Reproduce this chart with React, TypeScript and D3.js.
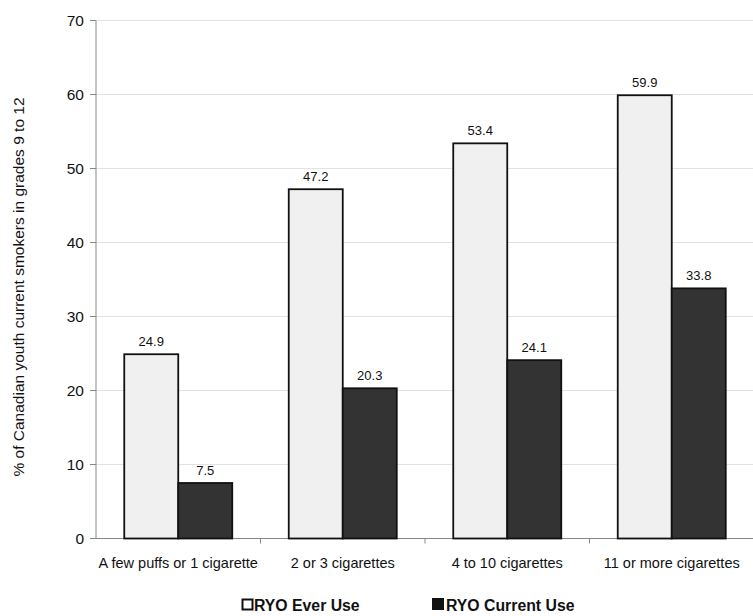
import React from "react";
import * as d3 from "d3";

const categories = ["A few puffs or 1 cigarette", "2 or 3 cigarettes", "4 to 10 cigarettes", "11 or more cigarettes"];
const everUse = [24.9, 47.2, 53.4, 59.9];
const currentUse = [7.5, 20.3, 24.1, 33.8];
const yTicks = [0, 10, 20, 30, 40, 50, 60, 70];
const seriesNames = ["RYO Ever Use", "RYO Current Use"];

export default function App() {
  const W = 753, H = 616;
  const left = 96, right = 754, top = 20.5, bottom = 538.5;
  const x = d3.scaleBand<string>().domain(categories).range([left, right]);
  const y = d3.scaleLinear().domain([0, 70]).range([bottom, top]);
  const barW = 54;
  const font = "Arial, 'Liberation Sans', sans-serif";
  return (
    <svg width={W} height={H} style={{ position: "absolute", left: 0, top: 0 }} fontFamily={font}>
      <rect width={W} height={H} fill="#fff" />
      {yTicks.map((t) => (
        <g key={t}>
          {t > 0 && <line x1={left} x2={right} y1={y(t)} y2={y(t)} stroke="#e2e2e2" strokeWidth={1} />}
          <line x1={left - 6} x2={left} y1={y(t)} y2={y(t)} stroke="#888" />
          <text x={left - 12} y={y(t)} dy="0.35em" textAnchor="end" fontSize={15.5} fill="#111">{t}</text>
        </g>
      ))}
      <line x1={left} x2={left} y1={top} y2={bottom} stroke="#888" />
      <line x1={left} x2={right} y1={bottom} y2={bottom} stroke="#888" />
      {categories.map((c, i) => (
        <line key={"tk" + i} x1={x(c)! + x.bandwidth()} x2={x(c)! + x.bandwidth()} y1={bottom} y2={bottom + 5} stroke="#888" />
      ))}
      {categories.map((c, i) => {
        const cx = x(c)! + x.bandwidth() / 2;
        return (
          <g key={c}>
            <rect x={cx - barW} y={y(everUse[i])} width={barW} height={y(0) - y(everUse[i])} fill="#f0f0f0" stroke="#111" strokeWidth={1.8} />
            <rect x={cx} y={y(currentUse[i])} width={barW} height={y(0) - y(currentUse[i])} fill="#333" stroke="#111" strokeWidth={1.8} />
            <text x={cx - barW / 2} y={y(everUse[i]) - 8} textAnchor="middle" fontSize={13} fill="#111">{everUse[i].toFixed(1)}</text>
            <text x={cx + barW / 2} y={y(currentUse[i]) - 8} textAnchor="middle" fontSize={13} fill="#111">{currentUse[i].toFixed(1)}</text>
            <text x={cx} y={568} textAnchor="middle" fontSize={14.5} fill="#111">{c}</text>
          </g>
        );
      })}
      <text transform={`translate(24,287) rotate(-90)`} textAnchor="middle" fontSize={15.5} fill="#111">
        % of Canadian youth current smokers in grades 9 to 12
      </text>
      <g>
        <rect x={242.5} y={599.5} width={10} height={10} fill="#fff" stroke="#111" strokeWidth={2} />
        <text x={254} y={611} fontSize={15.8} fontWeight="bold" fill="#111">{seriesNames[0]}</text>
        <rect x={432} y={598} width={12} height={12} fill="#111" />
        <text x={446} y={611} fontSize={15.8} fontWeight="bold" fill="#111">{seriesNames[1]}</text>
      </g>
    </svg>
  );
}
